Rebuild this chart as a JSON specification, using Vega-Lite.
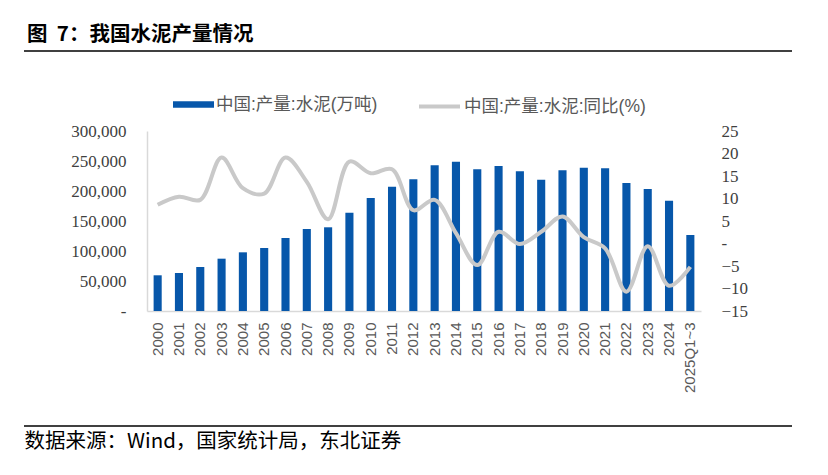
{
  "$schema": "https://vega.github.io/schema/vega-lite/v6.json",
  "autosize": {"type": "none"},
  "padding": {"left": 147, "top": 131, "right": 127, "bottom": 164},
  "width": 554,
  "height": 180,
  "background": "white",
  "title": {
    "text": "图\u00a0\u00a07：我国水泥产量情况",
    "anchor": "start",
    "frame": "group",
    "dx": -120,
    "font": "Noto Sans CJK SC",
    "fontSize": 20.5,
    "fontWeight": "bold",
    "color": "black",
    "offset": 5
  },
  "data": {
    "values": [
      {"year": "2000", "output": 59500, "yoy": 8.6},
      {"year": "2001", "output": 63300, "yoy": 10.4},
      {"year": "2002", "output": 73300, "yoy": 9.7},
      {"year": "2003", "output": 87200, "yoy": 19.1},
      {"year": "2004", "output": 97800, "yoy": 12.3},
      {"year": "2005", "output": 105000, "yoy": 11.1},
      {"year": "2006", "output": 121700, "yoy": 19.1},
      {"year": "2007", "output": 136700, "yoy": 13.7},
      {"year": "2008", "output": 139500, "yoy": 5.4},
      {"year": "2009", "output": 163800, "yoy": 18.2},
      {"year": "2010", "output": 188300, "yoy": 15.6},
      {"year": "2011", "output": 207200, "yoy": 16.5},
      {"year": "2012", "output": 219500, "yoy": 7.4},
      {"year": "2013", "output": 242800, "yoy": 9.7},
      {"year": "2014", "output": 248900, "yoy": 2.3},
      {"year": "2015", "output": 236200, "yoy": -4.8},
      {"year": "2016", "output": 241700, "yoy": 2.6},
      {"year": "2017", "output": 232800, "yoy": -0.1},
      {"year": "2018", "output": 218900, "yoy": 2.6},
      {"year": "2019", "output": 234500, "yoy": 6.0},
      {"year": "2020", "output": 238900, "yoy": 1.4},
      {"year": "2021", "output": 237800, "yoy": -1.1},
      {"year": "2022", "output": 213300, "yoy": -10.7},
      {"year": "2023", "output": 203300, "yoy": -0.6},
      {"year": "2024", "output": 183800, "yoy": -9.4},
      {"year": "2025Q1~3", "output": 126700, "yoy": -5.2}
    ]
  },
  "encoding": {
    "x": {
      "field": "year",
      "type": "ordinal",
      "sort": null,
      "scale": {"paddingInner": 0.62, "paddingOuter": 0.31},
      "axis": {
        "title": "数据来源：Wind，国家统计局，东北证券",
        "titleX": -123,
        "titleY": 130,
        "titleAlign": "left",
        "titleBaseline": "middle",
        "titleFont": "Noto Sans CJK SC",
        "titleFontSize": 20.5,
        "titleFontWeight": "normal",
        "titleColor": "black",
        "labelAngle": -90,
        "labelAlign": "right",
        "labelBaseline": "middle",
        "labelPadding": 11,
        "labelFont": "Liberation Sans",
        "labelFontSize": 15,
        "labelColor": "#595959",
        "ticks": false,
        "domainColor": "#d9d9d9",
        "domainWidth": 1.5,
        "grid": false
      }
    }
  },
  "layer": [
    {
      "mark": {"type": "bar"},
      "encoding": {
        "y": {
          "field": "output",
          "type": "quantitative",
          "scale": {"domain": [0, 300000], "nice": false},
          "axis": {
            "title": null,
            "orient": "left",
            "values": [0, 50000, 100000, 150000, 200000, 250000, 300000],
            "labelExpr": "datum.value == 0 ? '-' : format(datum.value, ',')",
            "labelFont": "Liberation Serif",
            "labelFontSize": 17,
            "labelColor": "#404040",
            "labelPadding": 21,
            "ticks": false,
            "grid": false,
            "domainColor": "#d9d9d9",
            "domainWidth": 1.5
          }
        },
        "fill": {
          "datum": "中国:产量:水泥(万吨)",
          "scale": {"range": ["#0757AA"]},
          "legend": {
            "title": null,
            "orient": "none",
            "legendX": 26,
            "legendY": -47,
            "symbolType": "M-1,-0.16L1,-0.16L1,0.16L-1,0.16Z",
            "symbolSize": 1681,
            "symbolStrokeWidth": 0,
            "labelFont": "Liberation Sans, Noto Sans CJK SC",
            "labelFontSize": 17.5,
            "labelColor": "#595959",
            "labelLimit": 300,
            "labelOffset": 2
          }
        }
      }
    },
    {
      "mark": {"type": "line", "interpolate": "catmull-rom", "strokeWidth": 4},
      "encoding": {
        "y": {
          "field": "yoy",
          "type": "quantitative",
          "scale": {"domain": [-15, 25], "nice": false},
          "axis": {
            "title": null,
            "orient": "right",
            "values": [-15, -10, -5, 0, 5, 10, 15, 20, 25],
            "labelExpr": "datum.value == 0 ? '-' : format(datum.value, 'd')",
            "labelFont": "Liberation Serif",
            "labelFontSize": 17,
            "labelColor": "#404040",
            "labelPadding": 20,
            "ticks": false,
            "grid": false,
            "domain": false
          }
        },
        "stroke": {
          "datum": "中国:产量:水泥:同比(%)",
          "scale": {"range": ["#c9c9c9"]},
          "legend": {
            "title": null,
            "orient": "none",
            "legendX": 270,
            "legendY": -47,
            "symbolType": "stroke",
            "symbolSize": 1681,
            "symbolStrokeWidth": 4,
            "labelFont": "Liberation Sans, Noto Sans CJK SC",
            "labelFontSize": 17.5,
            "labelColor": "#595959",
            "labelLimit": 300,
            "labelOffset": 2
          }
        }
      }
    },
    {
      "data": {"values": [{"pos": "top"}]},
      "mark": {"type": "rule", "color": "black", "strokeWidth": 1.5},
      "encoding": {
        "x": {"value": -123},
        "x2": {"value": 645},
        "y": {"value": -80}
      }
    },
    {
      "data": {"values": [{"pos": "bottom"}]},
      "mark": {"type": "rule", "color": "black", "strokeWidth": 1.5},
      "encoding": {
        "x": {"value": -123},
        "x2": {"value": 645},
        "y": {"value": 295}
      }
    }
  ],
  "resolve": {"scale": {"y": "independent"}},
  "config": {"view": {"stroke": null}}
}
